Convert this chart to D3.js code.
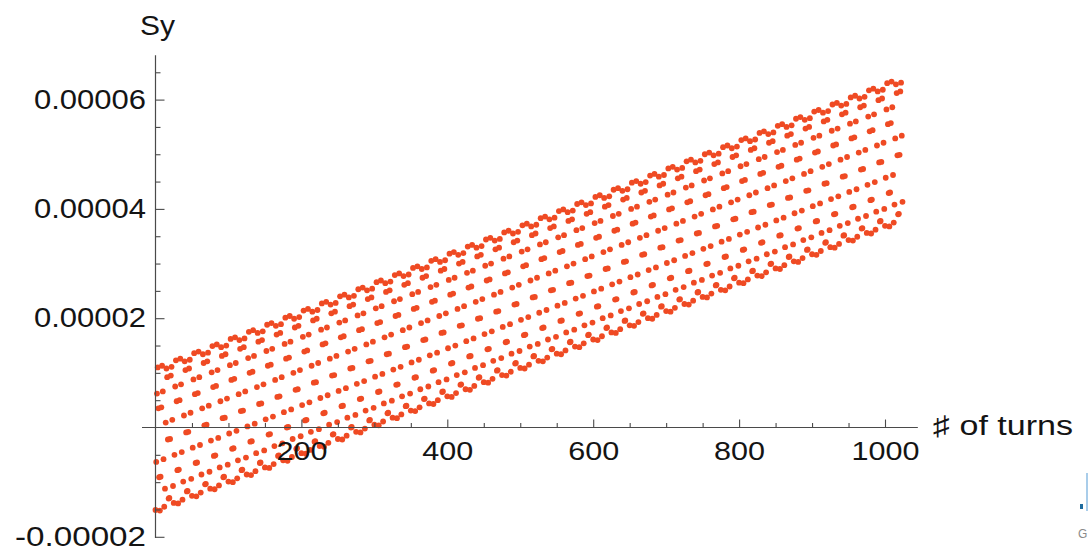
<!DOCTYPE html>
<html><head><meta charset="utf-8">
<script src="https://cdn.jsdelivr.net/npm/d3@7"></script>
<style>
body{margin:0;background:#fff}
svg{display:block}
text{font-family:"Liberation Sans",Arial,sans-serif;fill:#141414}
</style>
</head><body>
<svg id="chart" width="1089" height="547"></svg>
<script>
// Sy read per turn (turn = firstTurn + index), values in units of syUnit
const firstTurn = 0;
const syUnit = 1e-7;
const syValues = [
-151,-63,62,110,35,-91,-152,-90,37,113,66,-58,-145,-112,9,108,92,-22,-130,-129,-21,95,111,14,-107,
-138,-50,75,123,48,-78,-139,-77,50,126,79,-45,-132,-99,22,121,105,-9,-117,-116,-8,108,124,27,-94,
-125,-37,88,136,61,-65,-126,-64,63,139,92,-32,-119,-86,35,134,118,4,-104,-103,5,121,137,40,-81,
-112,-24,101,149,74,-52,-113,-51,76,152,105,-19,-106,-73,48,147,131,17,-91,-90,18,134,150,53,-68,
-99,-11,114,162,87,-39,-100,-38,89,165,118,-6,-93,-60,61,160,144,30,-78,-77,31,147,163,66,-55,
-86,2,127,175,100,-26,-87,-25,102,178,131,7,-80,-47,74,173,157,43,-65,-64,44,160,176,79,-42,
-73,15,140,188,113,-13,-74,-12,115,191,144,20,-67,-34,87,186,170,56,-52,-51,57,173,189,92,-29,
-60,28,153,201,126,0,-61,1,128,204,157,33,-54,-21,100,199,183,69,-39,-38,70,186,202,105,-16,
-47,41,166,214,139,13,-48,14,141,217,170,46,-41,-8,113,212,196,82,-26,-25,83,199,215,118,-3,
-34,54,179,227,152,26,-35,27,154,230,183,59,-28,5,126,225,209,95,-13,-12,96,212,228,131,10,
-21,67,192,240,165,39,-22,40,167,243,196,72,-15,18,139,238,222,108,0,1,109,225,241,144,23,
-8,80,205,253,178,52,-9,53,180,256,209,85,-2,31,152,251,235,121,13,14,122,238,254,157,36,
5,93,218,266,191,65,4,66,193,269,222,98,11,44,165,264,248,134,26,27,135,251,267,170,49,
18,106,231,279,204,78,17,79,206,282,235,111,24,57,178,277,261,147,39,40,148,264,280,183,62,
31,119,244,292,217,91,30,92,219,295,248,124,37,70,191,290,274,160,52,53,161,277,293,196,75,
44,132,257,305,230,104,43,105,232,308,261,137,50,83,204,303,287,173,65,66,174,290,306,209,88,
57,145,270,318,243,117,56,118,245,321,274,150,63,96,217,316,300,186,78,79,187,303,319,222,101,
70,158,283,331,256,130,69,131,258,334,287,163,76,109,230,329,313,199,91,92,200,316,332,235,114,
83,171,296,344,269,143,82,144,271,347,300,176,89,122,243,342,326,212,104,105,213,329,345,248,127,
96,184,309,357,282,156,95,157,284,360,313,189,102,135,256,355,339,225,117,118,226,342,358,261,140,
109,197,322,370,295,169,108,170,297,373,326,202,115,148,269,368,352,238,130,131,239,355,371,274,153,
122,210,335,383,308,182,121,183,310,386,339,215,128,161,282,381,365,251,143,144,252,368,384,287,166,
135,223,348,396,321,195,134,196,323,399,352,228,141,174,295,394,378,264,156,157,265,381,397,300,179,
148,236,361,409,334,208,147,209,336,412,365,241,154,187,308,407,391,277,169,170,278,394,410,313,192,
161,249,374,422,347,221,160,222,349,425,378,254,167,200,321,420,404,290,182,183,291,407,423,326,205,
174,262,387,435,360,234,173,235,362,438,391,267,180,213,334,433,417,303,195,196,304,420,436,339,218,
187,275,400,448,373,247,186,248,375,451,404,280,193,226,347,446,430,316,208,209,317,433,449,352,231,
200,288,413,461,386,260,199,261,388,464,417,293,206,239,360,459,443,329,221,222,330,446,462,365,244,
213,301,426,474,399,273,212,274,401,477,430,306,219,252,373,472,456,342,234,235,343,459,475,378,257,
226,314,439,487,412,286,225,287,414,490,443,319,232,265,386,485,469,355,247,248,356,472,488,391,270,
239,327,452,500,425,299,238,300,427,503,456,332,245,278,399,498,482,368,260,261,369,485,501,404,283,
252,340,465,513,438,312,251,313,440,516,469,345,258,291,412,511,495,381,273,274,382,498,514,417,296,
265,353,478,526,451,325,264,326,453,529,482,358,271,304,425,524,508,394,286,287,395,511,527,430,309,
278,366,491,539,464,338,277,339,466,542,495,371,284,317,438,537,521,407,299,300,408,524,540,443,322,
291,379,504,552,477,351,290,352,479,555,508,384,297,330,451,550,534,420,312,313,421,537,553,456,335,
304,392,517,565,490,364,303,365,492,568,521,397,310,343,464,563,547,433,325,326,434,550,566,469,348,
317,405,530,578,503,377,316,378,505,581,534,410,323,356,477,576,560,446,338,339,447,563,579,482,361,
330,418,543,591,516,390,329,391,518,594,547,423,336,369,490,589,573,459,351,352,460,576,592,495,374,
343,431,556,604,529,403,342,404,531,607,560,436,349,382,503,602,586,472,364,365,473,589,605,508,387,
356,444,569,617,542,416,355,417,544,620,573,449,362,395,516,615,599,485,377,378,486,602,618,521,400,
369,457,582,630,555,429,368,430,557,633,586,462,375,408,529,628,612,498,390,391,499,615,631,534,413
];

const xTicks = [200, 400, 600, 800, 1000];
const xTickLabels = ["200", "400", "600", "800", "1000"];
const xMinorTicks = [50,100,150,250,300,350,450,500,550,650,700,750,850,900,950];
const yTicks = [-0.00002, 0.00002, 0.00004, 0.00006];
const yTickLabels = ["-0.00002", "0.00002", "0.00004", "0.00006"];
const yMinorTicks = [-0.000015,-0.00001,-0.000005,0.000005,0.00001,0.000015,0.000025,0.00003,0.000035,0.000045,0.00005,0.000055,0.000065];
const xAxisRange = [-18.5, 1045];
const yAxisRange = [-0.0000202, 0.0000681];
const xTitle = "\u266F of turns";
const yTitle = "Sy";

const points = syValues.map((v, i) => ({turn: firstTurn + i, sy: v * syUnit}));

const svg = d3.select("#chart");
const x = d3.scaleLinear().domain([0, 1000]).range([155.5, 885]);
const y = d3.scaleLinear().domain([-0.00002, 0.00006]).range([536.8, 99.6]);

// points
svg.append("g").selectAll("circle").data(points).join("circle")
  .attr("cx", d => x(d.turn)).attr("cy", d => y(d.sy))
  .attr("r", 2.9).attr("fill", "#ef4a23");

const axisColor = "#4a4a4a";
// x axis
svg.append("line").attr("x1", x(xAxisRange[0])).attr("x2", x(xAxisRange[1]))
  .attr("y1", y(0)).attr("y2", y(0)).attr("stroke", axisColor).attr("stroke-width", 1.2);
const gxMinor = svg.append("g").attr("transform", `translate(0,${y(0)})`)
  .call(d3.axisBottom(x).tickValues(xMinorTicks).tickSize(-4.5).tickFormat(""));
const gx = svg.append("g").attr("transform", `translate(0,${y(0)})`)
  .call(d3.axisBottom(x).tickValues(xTicks).tickSize(-8).tickPadding(14)
    .tickFormat((d, i) => xTickLabels[i]));
// y axis
svg.append("line").attr("x1", x(0)).attr("x2", x(0))
  .attr("y1", y(yAxisRange[0])).attr("y2", y(yAxisRange[1])).attr("stroke", axisColor).attr("stroke-width", 1.2);
const gyMinor = svg.append("g").attr("transform", `translate(${x(0)},0)`)
  .call(d3.axisLeft(y).tickValues(yMinorTicks).tickSize(-5).tickFormat(""));
const gy = svg.append("g").attr("transform", `translate(${x(0)},0)`)
  .call(d3.axisLeft(y).tickValues(yTicks).tickSize(-9).tickPadding(9.5)
    .tickFormat((d, i) => yTickLabels[i]));

[gx, gy, gxMinor, gyMinor].forEach(g => {
  g.select(".domain").remove();
  g.selectAll(".tick line").attr("stroke", axisColor).attr("stroke-width", 1.1);
});
gx.selectAll("text").attr("font-size", 26).attr("fill", "#141414")
  .attr("textLength", d => String(d).length * 17).attr("lengthAdjust", "spacingAndGlyphs");
gy.selectAll("text").attr("font-size", 27).attr("fill", "#141414")
  .attr("textLength", (d, i) => yTickLabels[i].startsWith("-") ? 131 : 112)
  .attr("lengthAdjust", "spacingAndGlyphs");

// titles
svg.append("text").attr("x", 140).attr("y", 35).attr("font-size", 27)
  .attr("textLength", 35).attr("lengthAdjust", "spacingAndGlyphs").text(yTitle);
svg.append("text").attr("x", 933).attr("y", 435).attr("font-size", 27)
  .attr("textLength", 140).attr("lengthAdjust", "spacingAndGlyphs").text(xTitle);

// stray marks at right edge of the original capture
svg.append("line").attr("x1", 1087).attr("x2", 1087).attr("y1", 473).attr("y2", 511)
  .attr("stroke", "#a9cdea").attr("stroke-width", 2);
svg.append("rect").attr("x", 1080).attr("y", 504).attr("width", 3).attr("height", 5).attr("fill", "#1d6b9e");
svg.append("text").attr("x", 1078).attr("y", 538).attr("font-size", 12).style("fill", "#8a8a8a").text("G");
</script>
</body></html>
